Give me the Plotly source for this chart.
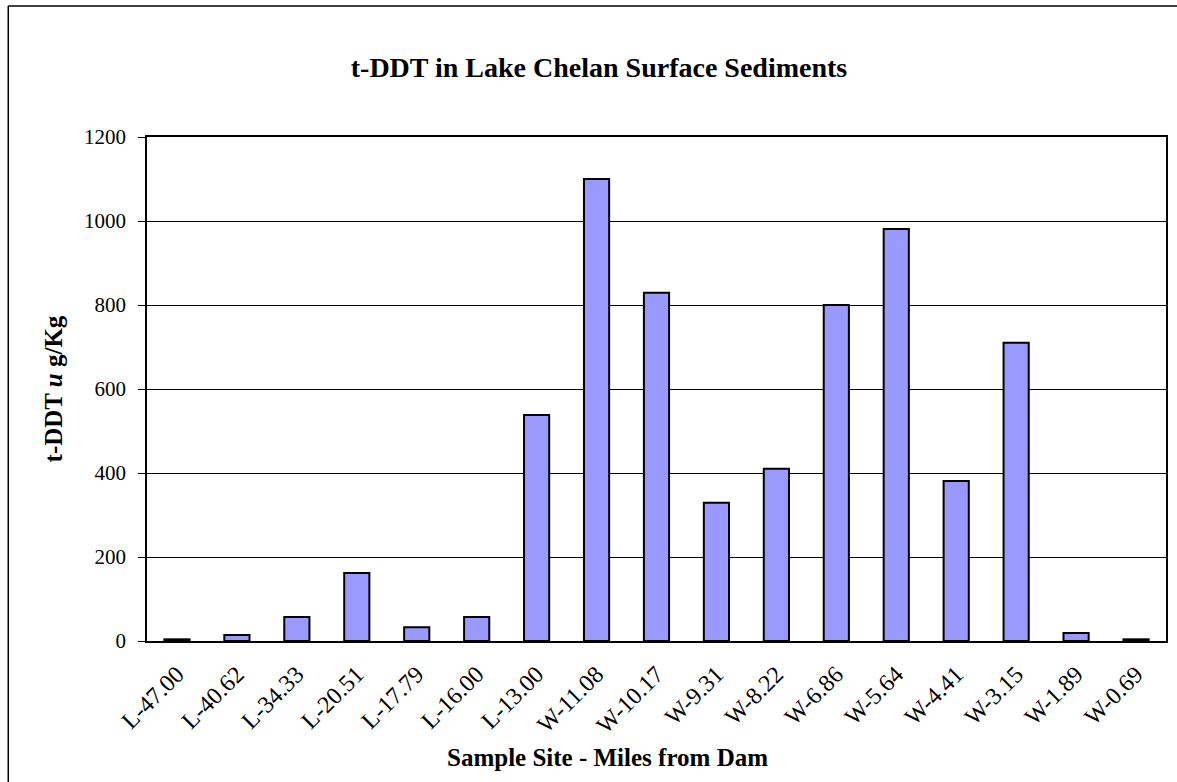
import plotly.graph_objects as go

sites = ["L-47.00", "L-40.62", "L-34.33", "L-20.51", "L-17.79", "L-16.00", "L-13.00",
         "W-11.08", "W-10.17", "W-9.31", "W-8.22", "W-6.86", "W-5.64", "W-4.41",
         "W-3.15", "W-1.89", "W-0.69"]
tddt = [4, 14, 57, 162, 33, 57, 538, 1100, 829, 329, 410, 800, 981, 381, 710, 19, 4]
y_ticks = [0, 200, 400, 600, 800, 1000, 1200]

W, H = 1177, 782
L, R, T, B = 147, 9, 137, 141
pw, ph = W - L - R, H - T - B

fig = go.Figure(go.Bar(
    x=sites, y=tddt,
    marker=dict(color="#9999FF", line=dict(color="black", width=2)),
    width=0.42,
))

font = "Liberation Serif, Times New Roman, serif"
fig.update_layout(
    width=W, height=H,
    margin=dict(l=L, r=R, t=T, b=B),
    paper_bgcolor="white", plot_bgcolor="white",
    showlegend=False,
    font=dict(family=font, color="black", size=21),
    title=dict(text="<b>t-DDT in Lake Chelan Surface Sediments</b>",
               x=599 / W, xanchor="center", y=1 - 67 / H, yanchor="middle",
               font=dict(size=28, family=font)),
    xaxis=dict(
        tickangle=-45, showgrid=False, ticks="", showline=True,
        linecolor="black", linewidth=1.5, mirror=True,
        tickfont=dict(size=24), ticklabelstandoff=8,
    ),
    yaxis=dict(
        range=[0, 1200], tickvals=y_ticks, ticktext=[str(v) for v in y_ticks],
        showgrid=True, gridcolor="black", gridwidth=1,
        ticks="outside", ticklen=7, tickcolor="black",
        showline=True, linecolor="black", linewidth=1.5, mirror=True,
        tickfont=dict(size=21), ticklabelstandoff=8, zeroline=False,
        title=dict(text="<b>t-DDT <i>u</i> g/Kg</b>", font=dict(size=25), standoff=14),
    ),
)

# x-axis title placed below the rotated site labels
fig.add_annotation(text="<b>Sample Site - Miles from Dam</b>", xref="paper", yref="paper",
                   x=(608 - L) / pw, y=-(757 - T - ph) / ph, xanchor="center", yanchor="middle",
                   showarrow=False, font=dict(size=25, family=font))

# Outer chart frame: top and left edges
frame = dict(color="black", width=1.5)
fig.add_shape(type="line", xref="paper", yref="paper",
              x0=(8 - L) / pw, x1=1.3, y0=1 + (T - 6) / ph, y1=1 + (T - 6) / ph, line=frame)
fig.add_shape(type="line", xref="paper", yref="paper",
              x0=(8 - L) / pw, x1=(8 - L) / pw, y0=-0.6, y1=1 + (T - 6) / ph, line=frame)

fig.write_html("out.html")
